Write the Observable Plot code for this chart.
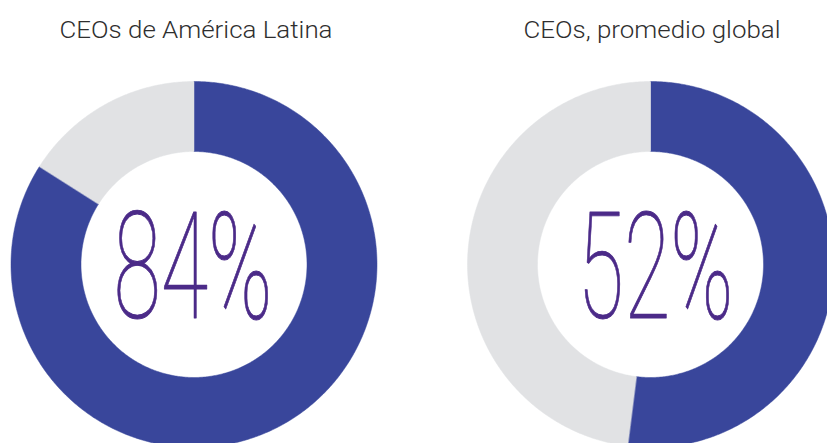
<!DOCTYPE html>
<html>
<head>
<meta charset="utf-8">
<script src="https://cdn.jsdelivr.net/npm/d3@7"></script>
<script src="https://cdn.jsdelivr.net/npm/@observablehq/plot@0.6"></script>
<style>
  html, body { margin: 0; padding: 0; background: #fff; }
  #chart { width: 827px; height: 443px; overflow: hidden; }
</style>
</head>
<body>
<div id="chart"></div>
<script>
// ---- data ----
const titles = ["CEOs de América Latina", "CEOs, promedio global"];
const values = [84, 52];              // % share (blue slice)
const labels = ["84%", "52%"];
const segmentNames = ["Sí", "Resto"];

// ---- layout ----
const W = 827, H = 443;
const centersX = [193.5, 650];
const centerY = 264;
const outerR = 183, innerR = 113;
const colors = {"Sí": "#39469b", "Resto": "#e1e2e4"};

// Build slice polygons (angles from d3.pie, clockwise from 12 o'clock)
const slices = [];
values.forEach((v, i) => {
  const arcs = d3.pie().sort(null)([v, 100 - v]);
  arcs.forEach((a, j) => {
    const id = `${i}-${j}`;
    const n = Math.max(2, Math.ceil((a.endAngle - a.startAngle) / 0.01));
    const pts = [];
    for (let k = 0; k <= n; k++) {
      const t = a.startAngle + (a.endAngle - a.startAngle) * k / n;
      pts.push({t, rho: outerR});
    }
    for (let k = n; k >= 0; k--) {
      const t = a.startAngle + (a.endAngle - a.startAngle) * k / n;
      pts.push({t, rho: innerR});
    }
    pts.forEach(p => slices.push({
      id, seg: segmentNames[j],
      x: centersX[i] + p.rho * Math.sin(p.t),
      y: centerY - p.rho * Math.cos(p.t)
    }));
  });
});

const titleData = titles.map((t, i) => ({t, x: centersX[i] + [2, 1.5][i]}));
const labelData = labels.map((l, i) => ({l, x: centersX[i] + [-1, 5][i]}));

const plot = Plot.plot({
  width: W, height: H,
  margin: 0,
  x: {domain: [0, W], range: [0, W], axis: null},
  y: {domain: [0, H], range: [0, H], axis: null},
  color: {domain: Object.keys(colors), range: Object.values(colors)},
  style: {background: "#fff", overflow: "hidden"},
  marks: [
    Plot.line(slices, {x: "x", y: "y", z: "id", fill: "seg", stroke: "seg", strokeWidth: 0.5, curve: "linear-closed"}),
    Plot.text(titleData, {x: "x", y: () => 37, text: "t", lineAnchor: "bottom", fontSize: 24, fontWeight: 300,
      fontFamily: "Roboto, 'Liberation Sans', sans-serif", fill: "#2e2e2e", ariaDescription: "titles"}),
    Plot.text(labelData, {x: "x", y: () => 317, text: "l", lineAnchor: "bottom", fontSize: 148, fontWeight: 100,
      fontFamily: "Roboto, Inter, sans-serif", fill: "#4b2a88", stroke: "#4b2a88", strokeWidth: 0.9,
      ariaDescription: "bignum"})
  ]
});

d3.select(plot).selectAll('g[aria-description="bignum"] text').each(function(d, i) {
  d3.select(this).attr("textLength", [159, 156][i]).attr("lengthAdjust", "spacingAndGlyphs");
});
d3.select(plot).selectAll('g[aria-description="titles"] text').each(function(d, i) {
  d3.select(this).attr("textLength", [273, 257][i]).attr("lengthAdjust", "spacingAndGlyphs");
});

document.getElementById("chart").appendChild(plot);
</script>
</body>
</html>
